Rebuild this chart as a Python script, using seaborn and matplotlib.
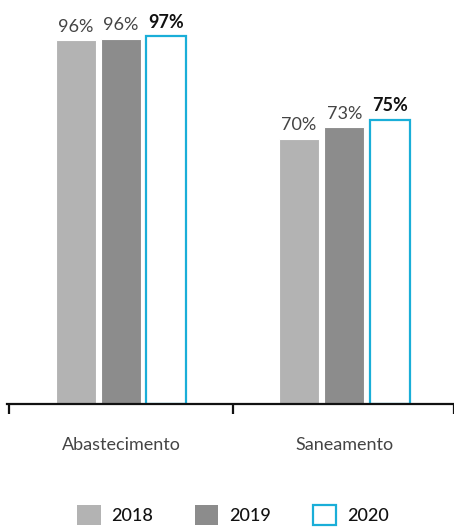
import pandas as pd
import matplotlib.pyplot as plt
import seaborn as sns
from matplotlib.patches import Patch

categories = ['Abastecimento', 'Saneamento']
years = ['2018', '2019', '2020']
values_2018 = [96.0, 70.0]
values_2019 = [96.4, 73.0]
values_2020 = [97.0, 75.0]

colors = {'2018': '#b3b3b3', '2019': '#8c8c8c', '2020': '#ffffff'}
edge_2020 = '#1aaed8'

df = pd.DataFrame({
    'categoria': categories * 3,
    'ano': [y for y in years for _ in categories],
    'valor': values_2018 + values_2019 + values_2020,
})

sns.set_style('white')
plt.rcParams['font.family'] = ['Lato', 'DejaVu Sans']

fig = plt.figure(figsize=(4.54, 5.3), dpi=100)
ax = fig.add_axes([7 / 454, 126 / 530, 447 / 454, 379 / 530])

sns.barplot(data=df, x='categoria', y='valor', hue='ano', palette=colors,
            width=0.61, gap=0.12, ax=ax, legend=False, saturation=1)

for cont, yr in zip(ax.containers, years):
    for p in cont:
        if yr == '2020':
            p.set_facecolor('white')
            p.set_edgecolor(edge_2020)
            p.set_linewidth(1.6)
        else:
            p.set_edgecolor('white')
            p.set_linewidth(0.8)
    if yr == '2020':
        ax.bar_label(cont, fmt='%.0f%%', padding=4, fontsize=13,
                     fontweight='bold', color='#111111')
    else:
        ax.bar_label(cont, labels=[f'{v:.0f}%' for v in cont.datavalues],
                     padding=4, fontsize=13, color='#444444')

ax.set_ylim(0, 100)
ax.set_xlim(-0.51, 1.49)
for s in ['top', 'right', 'left']:
    ax.spines[s].set_visible(False)
ax.spines['bottom'].set_linewidth(1.6)
ax.spines['bottom'].set_color('#111111')
ax.set_yticks([])
ax.set_xlabel('')
ax.set_ylabel('')
ax.set_xticks([0, 1])
ax.set_xticklabels(categories, fontsize=13, color='#444444')
ax.tick_params(axis='x', which='major', bottom=True, length=0, pad=24)
ax.set_xticks([-0.5, 0.5, 1.49], minor=True)
ax.tick_params(axis='x', which='minor', bottom=True, length=7, width=1.6,
               color='#111111', direction='out')

handles = [Patch(facecolor=colors['2018'], edgecolor='none', label='2018'),
           Patch(facecolor=colors['2019'], edgecolor='none', label='2019'),
           Patch(facecolor='white', edgecolor=edge_2020, linewidth=1.6, label='2020')]
leg = fig.legend(handles=handles, loc='center', bbox_to_anchor=(0.513, 0.028), ncol=3,
                 frameon=False, fontsize=13, handlelength=1.3, handleheight=1.3,
                 columnspacing=2.3, handletextpad=0.6)
for t in leg.get_texts():
    t.set_color('#111111')
    t.set_fontweight('medium')

fig.savefig('out.png', dpi=100)
